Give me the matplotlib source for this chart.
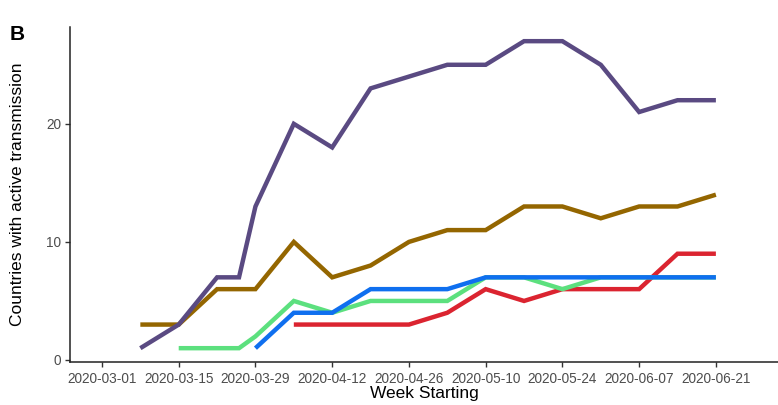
import matplotlib
matplotlib.use("Agg")
import matplotlib.pyplot as plt
import matplotlib.dates as mdates
import pandas as pd

plt.rcParams['font.family'] = ['Liberation Sans', 'DejaVu Sans']

# week-start dates per series
d_purple = ["2020-03-08", "2020-03-15", "2020-03-22", "2020-03-26", "2020-03-29", "2020-04-05",
            "2020-04-12", "2020-04-19", "2020-04-26", "2020-05-03", "2020-05-10", "2020-05-17",
            "2020-05-24", "2020-05-31", "2020-06-07", "2020-06-14", "2020-06-21"]
v_purple = [1, 3, 7, 7, 13, 20, 18, 23, 24, 25, 25, 27, 27, 25, 21, 22, 22]

d_brown = d_purple
v_brown = [3, 3, 6, 6, 6, 10, 7, 8, 10, 11, 11, 13, 13, 12, 13, 13, 14]

d_green = d_purple[1:]
v_green = [1, 1, 1, 2, 5, 4, 5, 5, 5, 7, 7, 6, 7, 7, 7, 7]

d_blue = d_purple[4:]
v_blue = [1, 4, 4, 6, 6, 6, 7, 7, 7, 7, 7, 7, 7]

d_red = d_purple[5:]
v_red = [3, 3, 3, 3, 4, 6, 5, 6, 6, 6, 9, 9]

tick_dates = ["2020-03-01", "2020-03-15", "2020-03-29", "2020-04-12", "2020-04-26",
              "2020-05-10", "2020-05-24", "2020-06-07", "2020-06-21"]

series = [
    (d_brown, v_brown, "#946600"),
    (d_red, v_red, "#DB2430"),
    (d_green, v_green, "#5CE07E"),
    (d_blue, v_blue, "#0F6FEF"),
    (d_purple, v_purple, "#5A4A82"),
]

fig = plt.figure(figsize=(7.78, 4.05), dpi=100)
ax = fig.add_axes([70/778, 1-362/405, 1-70/778, (362-27)/405])

for d, v, c in series:
    ax.plot(pd.to_datetime(d), v, color=c, lw=3.2, solid_capstyle='butt', solid_joinstyle='miter')

ax.set_xlim(pd.Timestamp("2020-02-24 04:00"), pd.Timestamp("2020-07-02 08:00"))
ax.set_ylim(-0.17, 28.2)
ax.set_yticks([0, 10, 20])
ax.set_xticks(pd.to_datetime(tick_dates))
ax.xaxis.set_major_formatter(mdates.DateFormatter("%Y-%m-%d"))

for s in ["top", "right"]:
    ax.spines[s].set_visible(False)
for s in ["left", "bottom"]:
    ax.spines[s].set_linewidth(1.1)
    ax.spines[s].set_color("#222222")
ax.tick_params(axis="both", length=3.5, width=1.0, color="#333333",
               labelcolor="#4D4D4D", labelsize=9.8, pad=3)
ax.tick_params(axis="x", pad=4)

ax.set_xlabel("Week Starting", fontsize=12.5, color="black", labelpad=0)
ax.set_ylabel("Countries with active transmission", fontsize=12.5, color="black", labelpad=15)

fig.text(10/778, 1-35/405, "B", fontsize=15, fontweight="bold", va="center", ha="left")

fig.savefig("out.png", dpi=100)
